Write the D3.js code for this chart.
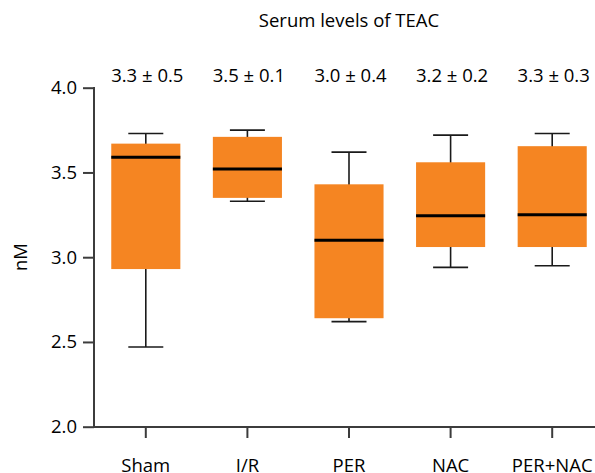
<!DOCTYPE html>
<html>
<head>
<meta charset="utf-8">
<script src="https://cdn.jsdelivr.net/npm/d3@7"></script>
<style>
  body { margin: 0; background: #fff; }
  text { font-family: "Open Sans", sans-serif; fill: #000; }
</style>
</head>
<body>
<script>
// data
var groups = ["Sham", "I/R", "PER", "NAC", "PER+NAC"]
var whiskerLow  = [2.47, 3.33, 2.62, 2.94, 2.95]
var boxLow      = [2.93, 3.35, 2.64, 3.06, 3.06]
var medians     = [3.59, 3.52, 3.10, 3.245, 3.25]
var boxHigh     = [3.67, 3.71, 3.43, 3.56, 3.655]
var whiskerHigh = [3.73, 3.75, 3.62, 3.72, 3.73]
var statLabels  = ["3.3 ± 0.5", "3.5 ± 0.1", "3.0 ± 0.4", "3.2 ± 0.2", "3.3 ± 0.3"]
var yTicks = [2.0, 2.5, 3.0, 3.5, 4.0]

var width = 595, height = 473
var fontSize = 18.5

var svg = d3.select("body")
  .append("svg")
  .attr("width", width)
  .attr("height", height)

var x = d3.scaleBand()
  .domain(groups)
  .range([95, 603])
  .paddingInner(0.32)
  .paddingOuter(0.16)

var y = d3.scaleLinear()
  .domain([2, 4])
  .range([426.7, 87.7])

var rows = groups.map(function (g, i) {
  return { g: g, wl: whiskerLow[i], bl: boxLow[i], m: medians[i],
           bh: boxHigh[i], wh: whiskerHigh[i], label: statLabels[i] }
})

var capW = 35
var cx = function (d) { return x(d.g) + x.bandwidth() / 2 }

// whiskers
var box = svg.selectAll("g.box")
  .data(rows)
  .enter()
  .append("g")
  .attr("class", "box")

box.append("line")
  .attr("x1", cx).attr("x2", cx)
  .attr("y1", function (d) { return y(d.wh) })
  .attr("y2", function (d) { return y(d.wl) })
  .attr("stroke", "#1a1a1a")
  .attr("stroke-width", 1.6)

box.selectAll("line.cap")
  .data(function (d) { return [d, d] })
  .enter()
  .append("line")
  .attr("class", "cap")
  .attr("x1", function (d) { return cx(d) - capW / 2 })
  .attr("x2", function (d) { return cx(d) + capW / 2 })
  .attr("y1", function (d, i) { return i == 0 ? y(d.wh) : y(d.wl) })
  .attr("y2", function (d, i) { return i == 0 ? y(d.wh) : y(d.wl) })
  .attr("stroke", "#1a1a1a")
  .attr("stroke-width", 1.6)

// boxes
box.append("rect")
  .attr("x", function (d) { return x(d.g) })
  .attr("width", x.bandwidth())
  .attr("y", function (d) { return y(d.bh) })
  .attr("height", function (d) { return y(d.bl) - y(d.bh) })
  .attr("fill", "#f58522")

// medians
box.append("line")
  .attr("x1", function (d) { return x(d.g) })
  .attr("x2", function (d) { return x(d.g) + x.bandwidth() })
  .attr("y1", function (d) { return y(d.m) })
  .attr("y2", function (d) { return y(d.m) })
  .attr("stroke", "#000")
  .attr("stroke-width", 3)

// mean ± sd labels
box.append("text")
  .attr("x", function (d) { return cx(d) + 1.5 })
  .attr("y", 82)
  .attr("text-anchor", "middle")
  .style("font-size", fontSize + "px")
  .text(function (d) { return d.label })

// axes
var yAxis = svg.append("g")
  .attr("transform", "translate(94,0)")
  .call(d3.axisLeft(y).tickValues(yTicks).tickFormat(d3.format(".1f"))
    .tickSize(11).tickPadding(6).tickSizeOuter(0))

var xAxis = svg.append("g")
  .attr("transform", "translate(0,427)")
  .call(d3.axisBottom(x).tickSize(11).tickSizeOuter(0))

xAxis.select(".domain").attr("d", "M93,0H595")
yAxis.select(".domain").attr("d", "M0,87H0V428")

svg.selectAll(".domain, .tick line")
  .attr("stroke", "#3c3c3c")
  .attr("stroke-width", 2)

svg.selectAll(".tick text")
  .style("font-size", fontSize + "px")
  .style("font-family", "'Open Sans', sans-serif")
  .attr("fill", "#000")

xAxis.selectAll(".tick text").attr("y", 44.5).attr("dy", 0)

// y label
svg.append("text")
  .attr("transform", "translate(27,257) rotate(-90)")
  .attr("text-anchor", "middle")
  .style("font-size", fontSize + "px")
  .text("nM")

// title
svg.append("text")
  .attr("x", (x.range()[0] + x.range()[1]) / 2)
  .attr("y", 27)
  .attr("text-anchor", "middle")
  .style("font-size", fontSize + "px")
  .text("Serum levels of TEAC")
</script>
</body>
</html>
